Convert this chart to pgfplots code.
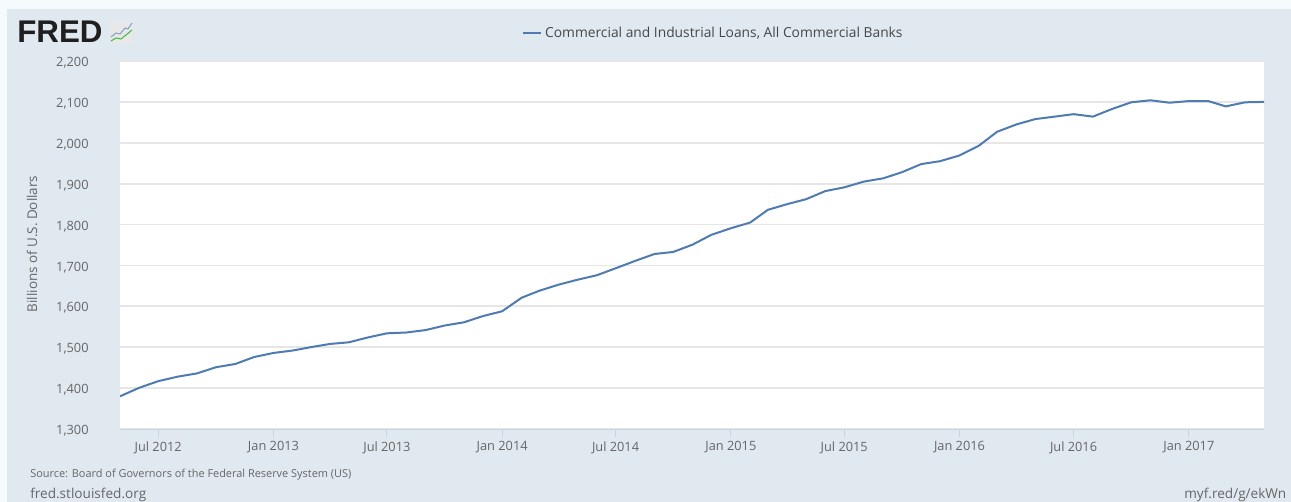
\documentclass[border=0pt]{standalone}
\usepackage{pgfplots}
\pgfplotsset{compat=1.18}
\usepackage{pgfplotstable}
\usepackage{fontspec}
\setmainfont{Open Sans}
\newfontfamily\logofont{Liberation Sans}[Scale=1.0]
\definecolor{pagebg}{HTML}{F5FAFD}
\definecolor{panelbg}{HTML}{E1E9F0}
\definecolor{gridc}{HTML}{E6E6E6}
\definecolor{seriesc}{HTML}{4F7BB0}
\definecolor{tickc}{HTML}{C6D5E4}
\definecolor{labelc}{HTML}{666666}
% day number since 1 May 2012, billions of dollars
\pgfplotstableread{
day value
0 1380
31 1401
61 1417
92 1428
123 1436
153 1451
184 1459
214 1476
245 1486
276 1492
304 1500
335 1508
365 1512
396 1524
426 1534
457 1536
488 1542
518 1553
549 1561
579 1576
610 1588
641 1621
669 1638
700 1653
730 1665
761 1676
791 1693
822 1711
853 1728
883 1733
914 1751
944 1775
975 1791
1006 1805
1034 1836
1065 1850
1095 1862
1126 1882
1156 1891
1187 1905
1218 1913
1248 1928
1279 1948
1309 1955
1340 1969
1371 1993
1400 2027
1431 2045
1461 2058
1492 2064
1522 2070
1553 2064
1584 2083
1614 2099
1645 2104
1675 2098
1706 2102
1737 2102
1765 2089
1796 2099
1826 2100
}\loans
\begin{document}
\begin{tikzpicture}[x=0.75pt,y=-0.75pt]
\useasboundingbox (0,0) rectangle (1291,502);
\fill[pagebg] (0,0) rectangle (1291,502);
\fill[panelbg] (7,9) rectangle (1291,502);
% logo
\node[anchor=west,inner sep=0pt,font=\logofont\bfseries\fontsize{23.5pt}{23.5pt}\selectfont,text=black!88] at (17,32) {FRED};
\fill[gray!18] (110,22) rectangle (133,43);
\draw[seriesc!70,line width=0.8pt] (111,37) -- (116,33) -- (120,34) -- (125,28) -- (128,29) -- (132,23);
\draw[green!45!gray,line width=0.8pt] (111,41) -- (116,38) -- (121,39) -- (126,35) -- (132,30);
\begin{axis}[
  at={(90pt,-321.75pt)}, anchor=south west,
  scale only axis, width=858pt, height=276pt,
  xmin=0, xmax=1826, ymin=1300, ymax=2200,
  axis background/.style={fill=white},
  axis line style={draw=none},
  ytick={1300,1400,...,2200},
  ymajorgrids, grid style={gridc,line width=1.3pt},
  major y tick style={draw=none},
  xtick={61,245,426,610,791,975,1156,1340,1522,1706},
  xticklabels={Jul 2012,Jan 2013,Jul 2013,Jan 2014,Jul 2014,Jan 2015,Jul 2015,Jan 2016,Jul 2016,Jan 2017},
  xtick pos=bottom, ytick pos=left,
  tick align=outside,
  major tick length=6pt,
  major x tick style={tickc,line width=0.6pt},
  /pgf/number format/assume math mode=true,
  /pgf/number format/1000 sep={,},
  yticklabel style={font=\fontsize{9.6pt}{11pt}\selectfont,text=labelc,xshift=-14pt,yshift=-1.3pt},
  xticklabel style={font=\fontsize{9.6pt}{11pt}\selectfont,text=labelc},
  legend style={at={(0.351,1.076)},anchor=west,draw=none,fill=none,inner sep=0pt,
    font=\fontsize{10.35pt}{12pt}\selectfont\color{labelc!70!black}},
  legend image code/.code={\draw[seriesc,line width=1.5pt] (0pt,0pt) -- (14pt,0pt);},
  legend cell align=left,
]
\addplot[seriesc,line width=1.5pt,line join=round] table[x=day,y=value] {\loans};
\addlegendentry{Commercial and Industrial Loans, All Commercial Banks}
\end{axis}
\draw[tickc,line width=0.7pt] (120,429) -- (1264,429);
\node[rotate=90,font=\fontsize{10.1pt}{12pt}\selectfont,text=labelc] at (32,244) {Billions of U.S. Dollars};
\node[anchor=west,inner sep=0pt,font=\fontsize{8.2pt}{10pt}\selectfont,text=labelc] at (30,475) {Source: Board of Governors of the Federal Reserve System (US)};
\node[anchor=west,inner sep=0pt,font=\fontsize{10.2pt}{12pt}\selectfont,text=labelc] at (30,495) {fred.stlouisfed.org};
\node[anchor=west,inner sep=0pt,font=\fontsize{10.2pt}{12pt}\selectfont,text=labelc] at (1184,495) {myf.red/g/ekWn};
\end{tikzpicture}
\end{document}
